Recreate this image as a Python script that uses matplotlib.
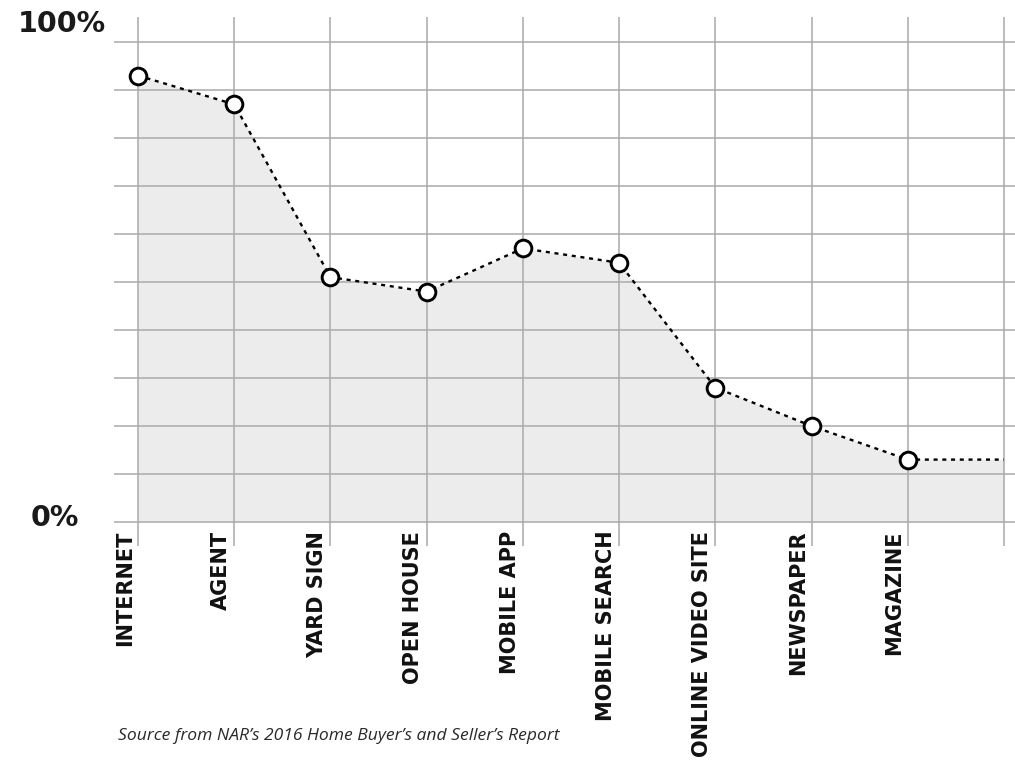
import matplotlib
matplotlib.use('Agg')
import matplotlib.pyplot as plt

# values (percent of buyers using each source)
categories = ['INTERNET', 'AGENT', 'YARD SIGN', 'OPEN HOUSE', 'MOBILE APP',
              'MOBILE SEARCH', 'ONLINE VIDEO SITE', 'NEWSPAPER', 'MAGAZINE']
values = [93, 87, 51, 48, 57, 54, 28, 20, 13, 13]
y_ticks = [0, 10, 20, 30, 40, 50, 60, 70, 80, 90, 100]
source_note = 'Source from NAR\u2019s 2016 Home Buyer\u2019s and Seller\u2019s Report'

W, H = 1015, 766
fig = plt.figure(figsize=(W / 100, H / 100), dpi=100)
ax = fig.add_axes([114 / W, 1 - 546 / H, (W - 114) / W, (546 - 17) / H])

x = list(range(len(values)))
ax.set_xlim(-0.25, 9.115)
ax.set_ylim(-5.0, 105.2)

ax.set_xticks(x)
ax.set_yticks(y_ticks)
ax.set_xticklabels([])
ax.set_yticklabels([])
ax.tick_params(length=0)
ax.grid(True, color='#aaaaaa', linewidth=1.1)
ax.set_axisbelow(True)
for s in ax.spines.values():
    s.set_visible(False)

ax.fill_between(x, values, 0, color='#ececec', linewidth=0, zorder=0.2)
ax.plot(x, values, color='black', linewidth=1.7, linestyle=(0, (1.7, 2.0)), zorder=3)
ax.plot(x[:len(categories)], values[:len(categories)], 'o', markersize=12,
        markerfacecolor='white', markeredgecolor='black', markeredgewidth=2.1, zorder=4)

# rotated category labels hanging below the zero line
for i, name in enumerate(categories):
    ax.text(i - 0.035, -1.8, name, rotation=90, ha='right', va='top',
            fontsize=15, fontweight='bold', color='#111111', clip_on=False)

fig.text(18 / W, 1 - 32 / H, '100%', ha='left', va='baseline',
         fontsize=20.5, fontweight='bold', color='#1a1a1a')
fig.text(31 / W, 1 - 526 / H, '0%', ha='left', va='baseline',
         fontsize=20.5, fontweight='bold', color='#1a1a1a')
fig.text(118 / W, 1 - 740 / H, source_note, ha='left', va='baseline',
         fontsize=12.6, style='italic', family=['Open Sans', 'DejaVu Sans'], color='#2a2a2a')

fig.savefig('out.png', dpi=100)
